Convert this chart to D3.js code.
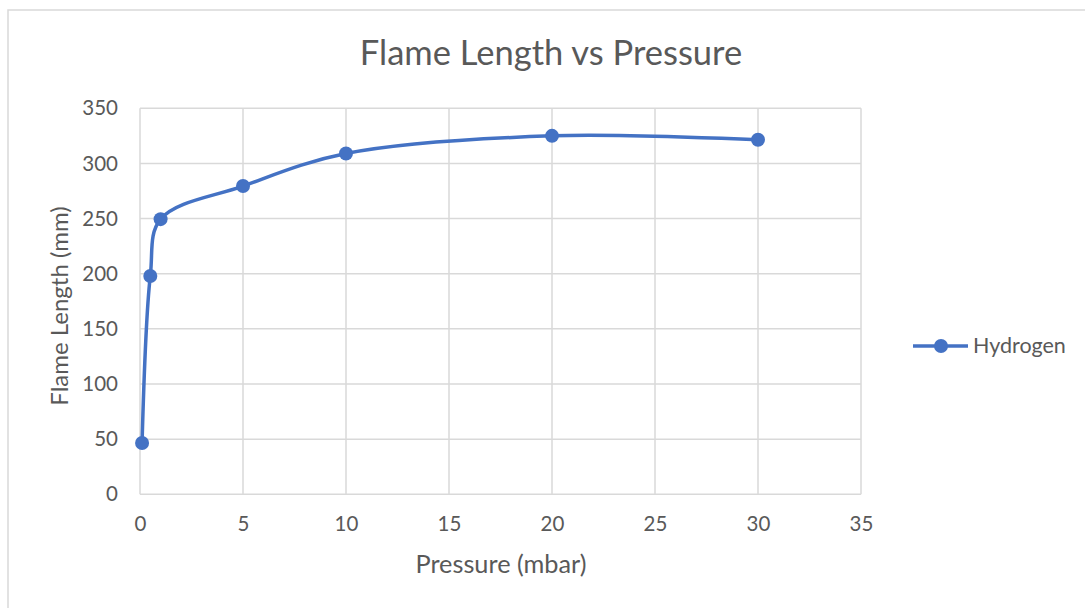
<!DOCTYPE html>
<html><head><meta charset="utf-8">
<script src="https://cdn.jsdelivr.net/npm/d3@7"></script>
<style>body{margin:0;background:#fff;} svg{display:block;}</style>
</head><body>
<svg id="c" width="1085" height="608"></svg>
<script>
const pressure = [0.1, 0.5, 1, 5, 10, 20, 30];
const flameLength = [46.5, 198, 249.5, 279.5, 309, 325, 321.5];
const xTicks = [0, 5, 10, 15, 20, 25, 30, 35];
const yTicks = [0, 50, 100, 150, 200, 250, 300, 350];
const seriesName = "Hydrogen";
const title = "Flame Length vs Pressure";
const xTitle = "Pressure (mbar)";
const yTitle = "Flame Length (mm)";

const font = "Lato, 'Open Sans', sans-serif";
const grey = "#595959";
const blue = "#4472C4";
const svg = d3.select("#c");

// chart border
svg.append("rect").attr("x", 8).attr("y", 10).attr("width", 1100).attr("height", 620)
  .attr("fill", "none").attr("stroke", "#d9d9d9").attr("stroke-width", 1.5);

const x = d3.scaleLinear().domain([0, 35]).range([140, 861]);
const y = d3.scaleLinear().domain([0, 350]).range([494.3, 108.3]);

// gridlines
svg.append("g").selectAll("line").data(xTicks).join("line")
  .attr("x1", d => x(d)).attr("x2", d => x(d)).attr("y1", y(0)).attr("y2", y(350))
  .attr("stroke", "#d9d9d9").attr("stroke-width", 1.5);
svg.append("g").selectAll("line").data(yTicks).join("line")
  .attr("x1", x(0)).attr("x2", x(35)).attr("y1", d => y(d)).attr("y2", d => y(d))
  .attr("stroke", "#d9d9d9").attr("stroke-width", 1.5);

// axes
const xAxis = svg.append("g").attr("transform", `translate(0,${y(0)})`)
  .call(d3.axisBottom(x).tickValues(xTicks).tickSize(0).tickPadding(22));
const yAxis = svg.append("g").attr("transform", `translate(${x(0)},0)`)
  .call(d3.axisLeft(y).tickValues(yTicks).tickSize(0).tickPadding(22));
[xAxis, yAxis].forEach(g => {
  g.select(".domain").remove();
  g.selectAll("text").attr("fill", grey).style("font-family", font).style("font-size", "20.5px");
});

// line
const data = pressure.map((p, i) => ({p, v: flameLength[i]}));
svg.append("path").datum(data)
  .attr("d", d3.line().x(d => x(d.p)).y(d => y(d.v)).curve(d3.curveCatmullRom.alpha(0.5)))
  .attr("fill", "none").attr("stroke", blue).attr("stroke-width", 3.5).attr("stroke-linecap", "round");
svg.append("g").selectAll("circle").data(data).join("circle")
  .attr("cx", d => x(d.p)).attr("cy", d => y(d.v)).attr("r", 7).attr("fill", blue);

// titles
svg.append("text").attr("x", 551).attr("y", 65).attr("text-anchor", "middle")
  .attr("fill", grey).style("font-family", font).style("font-size", "34.5px").text(title);
svg.append("text").attr("x", 501).attr("y", 573).attr("text-anchor", "middle")
  .attr("fill", grey).style("font-family", font).style("font-size", "25.3px").text(xTitle);
svg.append("text").attr("transform", "translate(68,306) rotate(-90)").attr("text-anchor", "middle")
  .attr("fill", grey).style("font-family", font).style("font-size", "24px").text(yTitle);

// legend
const lg = svg.append("g");
lg.append("line").attr("x1", 913).attr("x2", 968).attr("y1", 346).attr("y2", 346)
  .attr("stroke", blue).attr("stroke-width", 3.5);
lg.append("circle").attr("cx", 941).attr("cy", 346).attr("r", 7).attr("fill", blue);
lg.append("text").attr("x", 973).attr("y", 353).attr("fill", grey)
  .style("font-family", font).style("font-size", "21.5px").text(seriesName);
</script>
</body></html>
